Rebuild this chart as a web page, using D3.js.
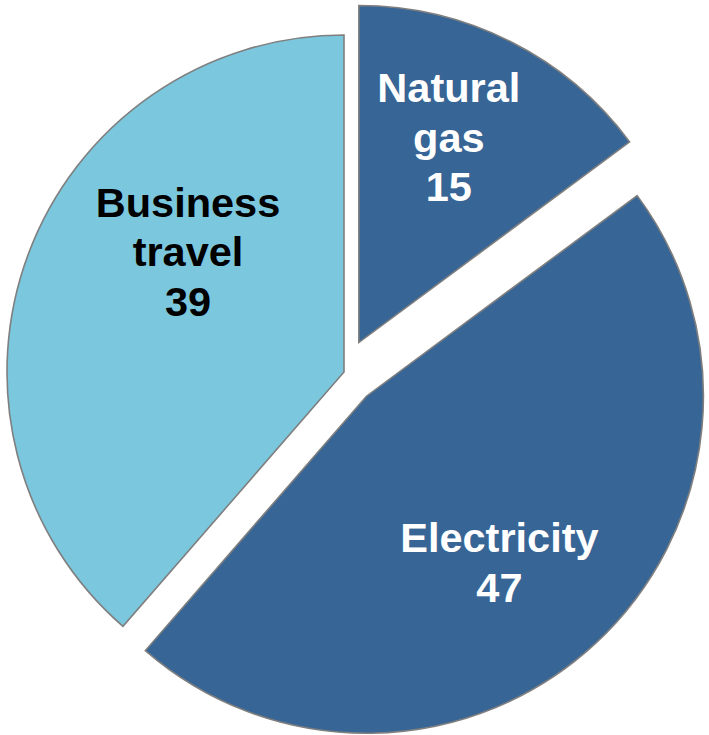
<!DOCTYPE html>
<html>
<head>
<meta charset="utf-8">
<script src="https://cdn.jsdelivr.net/npm/d3@7"></script>
<style>
  html, body { margin: 0; padding: 0; background: #ffffff; }
  svg { display: block; }
</style>
</head>
<body>
<svg id="chart" width="709" height="735"></svg>
<script>
// Emissions by source
const categories = ["Natural gas", "Electricity", "Business travel"];
const values = [15, 47, 39];
const labelLines = [["Natural", "gas"], ["Electricity"], ["Business", "travel"]];

// Layout
const width = 709, height = 735;
const cx = 344, cy = 372, radius = 337;
const explode = { "Natural gas": 33, "Electricity": 33, "Business travel": 0 };
const fills = { "Natural gas": "#376596", "Electricity": "#376596", "Business travel": "#7bc7de" };
const textFill = { "Natural gas": "#ffffff", "Electricity": "#ffffff", "Business travel": "#000000" };
// label block centre, relative to each slice's (exploded) apex
const labelOffset = { "Natural gas": [90, -206], "Electricity": [133, 166], "Business travel": [-156, -121] };
const fontSize = 41.5, lineHeight = 49.5, capHalf = 15;

const data = categories.map((c, i) => ({ name: c, value: values[i], lines: labelLines[i] }));

const svg = d3.select("#chart");
const pie = d3.pie().sort(null).value(d => d.value).startAngle(0).endAngle(2 * Math.PI);
const arc = d3.arc().innerRadius(0).outerRadius(radius);

const arcs = pie(data);

const g = svg.append("g").attr("transform", `translate(${cx},${cy})`);

const slice = g.selectAll("g.slice")
  .data(arcs)
  .join("g")
  .attr("class", "slice")
  .attr("transform", d => {
    const mid = (d.startAngle + d.endAngle) / 2;
    const e = explode[d.data.name];
    return `translate(${Math.sin(mid) * e},${-Math.cos(mid) * e})`;
  });

slice.append("path")
  .attr("d", arc)
  .attr("fill", d => fills[d.data.name])
  .attr("stroke", "#7f7f7f")
  .attr("stroke-width", 1.6)
  .attr("stroke-linejoin", "miter");

slice.each(function(d) {
  const [ox, oy] = labelOffset[d.data.name];
  const lines = d.data.lines.concat([String(d.data.value)]);
  const n = lines.length;
  const firstBaseline = oy + capHalf - (n - 1) * lineHeight / 2;
  const t = d3.select(this).append("text")
    .attr("text-anchor", "middle")
    .attr("font-family", "'Liberation Sans', Arial, Helvetica, sans-serif")
    .attr("font-weight", "bold")
    .attr("font-size", fontSize)
    .attr("fill", textFill[d.data.name]);
  lines.forEach((ln, i) => {
    t.append("tspan")
      .attr("x", ox)
      .attr("y", firstBaseline + i * lineHeight)
      .text(ln);
  });
});
</script>
</body>
</html>
